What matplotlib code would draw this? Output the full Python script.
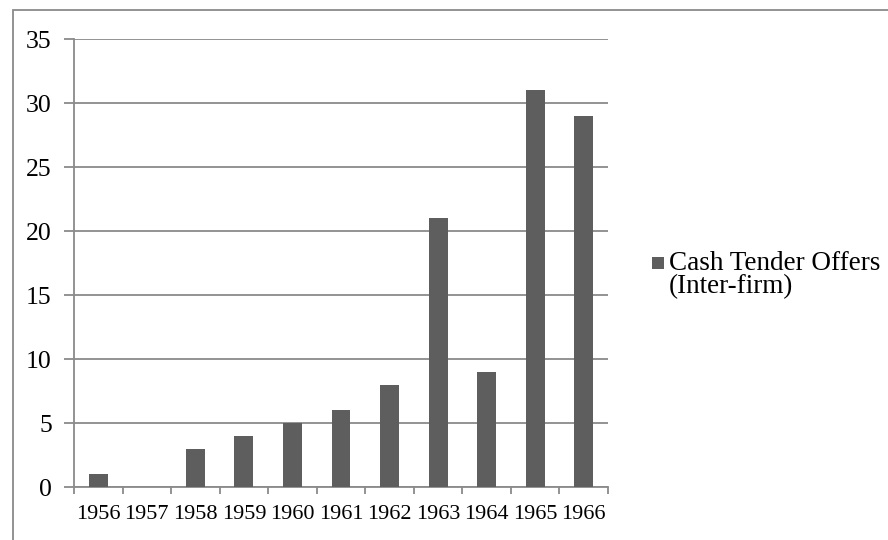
import matplotlib
matplotlib.use("Agg")
import matplotlib.pyplot as plt
from matplotlib.patches import Rectangle
import numpy as np

years = ["1956", "1957", "1958", "1959", "1960", "1961", "1962", "1963", "1964", "1965", "1966"]
offers = [1, 0, 3, 4, 5, 6, 8, 21, 9, 31, 29]
series_label = ["Cash Tender Offers", "(Inter-firm)"]

plt.rcParams['font.family'] = ['Liberation Serif', 'DejaVu Serif']
W, H = 888, 540
fig = plt.figure(figsize=(W / 100, H / 100), dpi=100)
ax = fig.add_axes([74 / W, 1 - 487 / H, (608 - 74) / W, (487 - 39) / H])

gray = "#8a8a8a"
barc = "#5e5e5e"
x = np.arange(len(years))
ax.bar(x, offers, width=0.39, color=barc, zorder=3)

ax.set_xlim(-0.5, len(years) - 0.5)
ax.set_ylim(0, 35)
ax.set_yticks(np.arange(0, 36, 5))
ax.yaxis.grid(True, color=gray, linewidth=1.3, zorder=0)
ax.set_axisbelow(True)

ax.set_xticks(x)
ax.set_xticklabels(years)
ax.set_xticks(np.arange(-0.5, len(years), 1), minor=True)
ax.tick_params(axis='x', which='major', length=0, pad=13, labelsize=16, colors='black')
ax.tick_params(axis='x', which='minor', length=5, width=1.3, color=gray, direction='out')
ax.tick_params(axis='y', length=7, width=1.3, color=gray, pad=9, labelsize=18.5)

for s in ['top', 'right']:
    ax.spines[s].set_visible(False)
for s in ['left', 'bottom']:
    ax.spines[s].set_color(gray)
    ax.spines[s].set_linewidth(1.3)

# outer frame (cropped at right and bottom)
fig.add_artist(Rectangle((12.5 / W, -0.2), 1.0, 1 - 9.5 / H + 0.2, transform=fig.transFigure,
                         fill=False, edgecolor=gray, linewidth=1.3))

# legend
fig.add_artist(Rectangle((652 / W, 1 - 269 / H), 12 / W, 12 / H, transform=fig.transFigure,
                         facecolor=barc, edgecolor='none'))
fig.text(669 / W, 1 - 270 / H, series_label[0], fontsize=19.5, va='baseline', ha='left')
fig.text(669 / W, 1 - 293 / H, series_label[1], fontsize=19.5, va='baseline', ha='left')

fig.savefig("out.png", dpi=100)
